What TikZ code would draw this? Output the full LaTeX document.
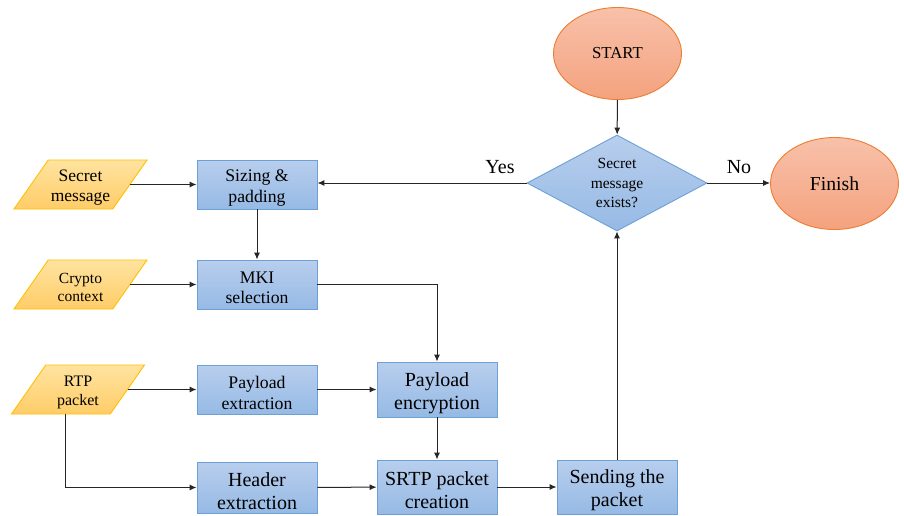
\documentclass[tikz,border=0pt]{standalone}
\usepackage{fontspec}
\setmainfont{Liberation Serif}
\usetikzlibrary{shapes.geometric,arrows.meta,calc}

\definecolor{boxtop}{RGB}{184,206,237}
\definecolor{boxbot}{RGB}{150,186,229}
\definecolor{boxline}{RGB}{108,160,215}
\definecolor{datatop}{RGB}{255,227,160}
\definecolor{databot}{RGB}{255,205,104}
\definecolor{dataline}{RGB}{255,192,0}
\definecolor{termtop}{RGB}{248,193,170}
\definecolor{termbot}{RGB}{244,162,126}
\definecolor{termline}{RGB}{237,125,49}

\newcommand\txtS{\fontsize{17.7}{20.5}\selectfont}
\newcommand\txtL{\fontsize{20}{23}\selectfont}
\newcommand\txtD{\fontsize{15.5}{18}\selectfont}
\newcommand\txtSec{\fontsize{17.5}{20.5}\selectfont}
\newcommand\txtRtp{\fontsize{16}{19}\selectfont}

\begin{document}
\begin{tikzpicture}[x=1pt,y=-1pt,
  proc/.style={draw=boxline, line width=0.9pt, top color=boxtop, bottom color=boxbot,
    minimum width=120pt, inner sep=1pt},
  data/.style={trapezium, trapezium left angle=62, trapezium right angle=118,
    trapezium stretches=true, draw=dataline, line width=0.9pt,
    top color=datatop, bottom color=databot, minimum width=133pt,
    minimum height=49pt, inner sep=1pt},
  % the two-line captions sit slightly below the middle of their shapes
  captxt/.style={align=center, inner sep=0pt, yshift=-3.5pt},
  capS/.style={captxt, font=\txtS},
  capL/.style={captxt, font=\txtL},
  capD/.style={captxt, yshift=0.5pt, font=#1},
  term/.style={ellipse, draw=termline, line width=0.9pt, top color=termtop,
    bottom color=termbot, minimum width=128pt, minimum height=92pt, inner sep=0pt},
  decision/.style={diamond, aspect=1.875, draw=boxline, line width=0.9pt,
    top color=boxtop, bottom color=boxbot, minimum width=180pt, minimum height=96pt,
    inner sep=0pt, align=center, font=\fontsize{15.5}{19.3}\selectfont},
  conn/.style={line width=1pt, draw=black!85, -{Latex[length=7pt,width=6pt]}},
  lbl/.style={font=\txtL, inner sep=0pt}
]
\fill[white] (0,0) rectangle (904,515);
\useasboundingbox (0,0) rectangle (904,515);

% terminals and decision
\node[term, font=\fontsize{16.8}{19}\selectfont] (start) at (617.5,53.5) {START};
\node[decision] (dec) at (617,183) {Secret\\message\\exists?};
\node[term, font=\fontsize{19.7}{22}\selectfont] (fin) at (834.5,183.5) {Finish};

% inputs
\node[data, label={[capD=\txtSec]center:{Secret\\message}}] (sec) at (80.5,184.5) {};
\node[data, label={[capD=\txtD]center:{Crypto\\context}}] (cry) at (80.5,284.5) {};
\node[data, label={[capD=\txtRtp]center:{RTP\\packet}}] (rtp) at (78,389.5) {};

% processing steps
\node[proc, minimum height=49pt, label={[capS]center:{Sizing \&\\padding}}] (siz) at (257,184.5) {};
\node[proc, minimum height=49pt, label={[capS]center:{MKI\\selection}}] (mki) at (257,284.5) {};
\node[proc, minimum height=49pt, label={[capS]center:{Payload\\extraction}}] (pex) at (257,389.5) {};
\node[proc, minimum height=51pt, label={[capL]center:{Header\\extraction}}] (hdr) at (257,487.5) {};
\node[proc, minimum height=55pt, label={[capL]center:{Payload\\encryption}}] (enc) at (437,389.5) {};
\node[proc, minimum height=54pt, label={[capL]center:{SRTP packet\\creation}}] (srtp) at (437,487) {};
\node[proc, minimum height=54pt, label={[capL]center:{Sending the\\packet}}] (snd) at (617,487) {};

% connectors
\draw[conn] (start) -- (dec);
\draw[conn] (dec.west) -- (siz.east |- dec.west);
\draw[conn] (dec.east) -- (fin.west |- dec.east);
\node[lbl] (yes) at (500,167) {Yes};
\node[lbl] (no) at (739,167) {No};

\draw[conn] (sec.east) -- (siz.west |- sec.east);
\draw[conn] (siz) -- (mki);
\draw[conn] (cry.east) -- (mki.west |- cry.east);
\draw[conn] (mki.east) -| (enc.north);
\draw[conn] (rtp.east) -- (pex.west |- rtp.east);
\draw[conn] (pex) -- (enc);
\draw[conn] ([xshift=-13pt]rtp.south) |- (hdr.west);
\draw[conn] (hdr) -- (srtp);
\draw[conn] (enc) -- (srtp);
\draw[conn] (srtp) -- (snd);
\draw[conn] (snd.north) -- (dec.south);
\end{tikzpicture}
\end{document}
